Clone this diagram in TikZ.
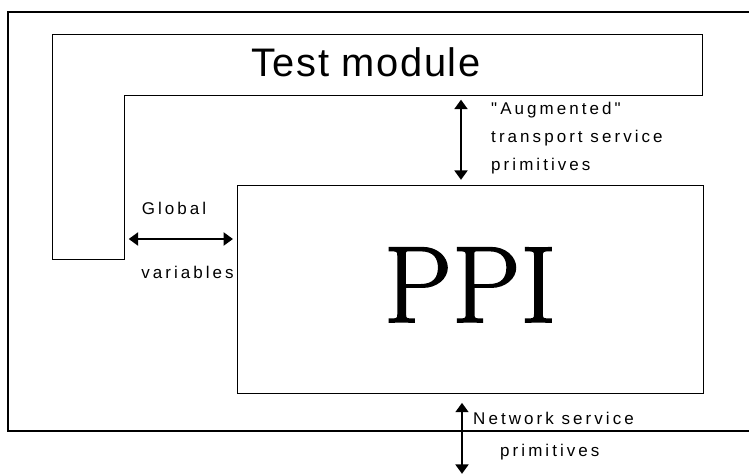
\documentclass[tikz,border=0pt]{standalone}
\usepackage{fontspec}
\newfontfamily\lblfont[LetterSpace=18]{Liberation Sans}
\newfontfamily\titlefont[LetterSpace=4]{Liberation Sans}
\newfontfamily\ppifont[FakeBold=1.5]{Latin Modern Roman}
\usetikzlibrary{arrows.meta}

\begin{document}
\begin{tikzpicture}[x=0.03cm, y=-0.03cm]

\useasboundingbox (0,0) rectangle (749,475);

% system frame (open on the right)
\draw[line width=2pt] (749,12) -- (8,12) -- (8,431) -- (749,431);

% test module outline
\draw[line width=0.8pt] (52,34) -- (702,34) -- (702,95) -- (124,95) -- (124,259) -- (52,259) -- cycle;
\coordinate (tmbar) at (461,95);
\coordinate (tmleg) at (124,239);
\coordinate (net) at (462,475);

\node[font=\titlefont\fontsize{34}{34}\selectfont] (tm) at (366,62) {Test module};

\node[draw, line width=0.8pt, minimum width=13.98cm, minimum height=6.24cm, inner sep=0pt,
      font=\ppifont\fontsize{93}{93}\selectfont] (ppi) at (470,289) {\raisebox{7pt}{PPI}};

\begin{scope}[every node/.style={font=\lblfont\fontsize{14.5}{24}\selectfont, inner sep=0pt}]
    \node[anchor=west, align=left] (auglbl) at (491,138) {"Augmented"\\transport service\\primitives};
    \node (globlbl) at (174,208) {Global};
    \node[anchor=east] (varlbl) at (234,272) {variables};
    \node[anchor=west] (netlbl) at (473,418) {Network service};
    \node[anchor=west] (primlbl) at (500,452) {primitives};
\end{scope}

\begin{scope}[{Triangle[width=11pt, length=8pt]}-{Triangle[width=11pt, length=8pt]}, line width=1.8pt]
    \draw[shorten <=4pt, shorten >=4pt] (tmbar) -- (tmbar |- ppi.north);
    \draw[line width=2.4pt, shorten <=4pt, shorten >=3pt] (tmleg) -- (tmleg -| ppi.west);
    \draw[shorten <=8pt, shorten >=1pt] (ppi.south -| net) -- (net);
\end{scope}

\end{tikzpicture}
\end{document}
